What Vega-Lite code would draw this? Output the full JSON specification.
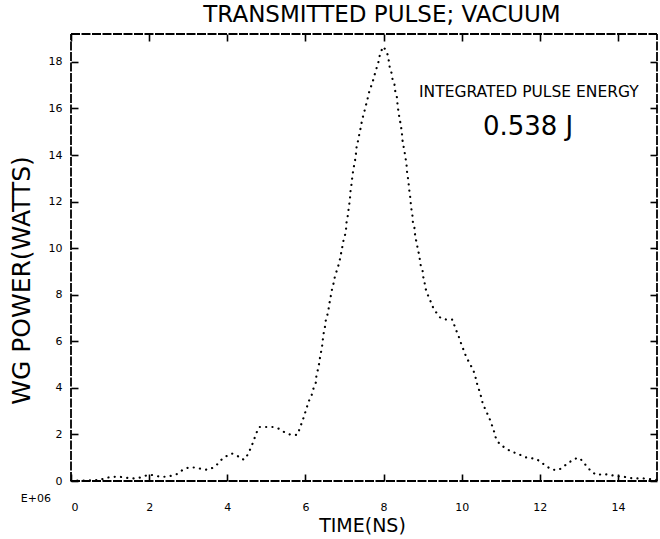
{
  "$schema": "https://vega.github.io/schema/vega-lite/v6.json",
  "width": 586,
  "height": 447,
  "autosize": "none",
  "padding": {"left": 71, "top": 34, "right": 3, "bottom": 58},
  "background": "white",
  "config": {
    "view": {"stroke": null},
    "font": "DejaVu Sans",
    "axis": {
      "grid": false,
      "domain": false,
      "ticks": true,
      "tickColor": "#000000",
      "tickWidth": 1.6,
      "tickOpacity": 1,
      "labelColor": "#000000",
      "titleColor": "#000000",
      "labelFont": "DejaVu Sans",
      "titleFont": "DejaVu Sans",
      "labelFontWeight": "normal",
      "titleFontWeight": "normal"
    }
  },
  "title": {
    "text": "TRANSMITTED PULSE; VACUUM",
    "fontSize": 23,
    "fontWeight": "normal",
    "font": "DejaVu Sans",
    "anchor": "middle",
    "offset": 6,
    "dx": 18,
    "color": "#000000"
  },
  "datasets": {
    "pulse": [
      {"t": 0.0, "P": 0.02}, {"t": 0.3, "P": 0.02}, {"t": 0.6, "P": 0.03}, {"t": 0.75, "P": 0.05},
      {"t": 0.91, "P": 0.14}, {"t": 1.08, "P": 0.18}, {"t": 1.25, "P": 0.18}, {"t": 1.42, "P": 0.14},
      {"t": 1.59, "P": 0.11}, {"t": 1.75, "P": 0.14}, {"t": 1.92, "P": 0.23}, {"t": 2.09, "P": 0.26},
      {"t": 2.24, "P": 0.2}, {"t": 2.41, "P": 0.18}, {"t": 2.58, "P": 0.23}, {"t": 2.72, "P": 0.3},
      {"t": 2.86, "P": 0.48}, {"t": 3.01, "P": 0.58}, {"t": 3.16, "P": 0.58}, {"t": 3.32, "P": 0.53},
      {"t": 3.49, "P": 0.48}, {"t": 3.62, "P": 0.56}, {"t": 3.76, "P": 0.74}, {"t": 3.86, "P": 0.93},
      {"t": 3.98, "P": 1.07}, {"t": 4.12, "P": 1.18}, {"t": 4.27, "P": 1.07}, {"t": 4.39, "P": 0.92},
      {"t": 4.48, "P": 0.97}, {"t": 4.54, "P": 1.23}, {"t": 4.61, "P": 1.42}, {"t": 4.66, "P": 1.67},
      {"t": 4.71, "P": 1.89}, {"t": 4.76, "P": 2.12}, {"t": 4.82, "P": 2.32}, {"t": 4.99, "P": 2.32},
      {"t": 5.16, "P": 2.32}, {"t": 5.33, "P": 2.24}, {"t": 5.47, "P": 2.09}, {"t": 5.6, "P": 2.0},
      {"t": 5.79, "P": 1.98}, {"t": 5.84, "P": 2.19}, {"t": 5.89, "P": 2.42}, {"t": 5.94, "P": 2.65},
      {"t": 5.98, "P": 2.88}, {"t": 6.03, "P": 3.1}, {"t": 6.06, "P": 3.33}, {"t": 6.13, "P": 3.58},
      {"t": 6.18, "P": 3.77}, {"t": 6.21, "P": 4.0}, {"t": 6.27, "P": 4.24}, {"t": 6.28, "P": 4.5},
      {"t": 6.32, "P": 4.79}, {"t": 6.35, "P": 5.03}, {"t": 6.37, "P": 5.26}, {"t": 6.39, "P": 5.45},
      {"t": 6.42, "P": 5.7}, {"t": 6.44, "P": 5.95}, {"t": 6.45, "P": 6.15}, {"t": 6.47, "P": 6.37},
      {"t": 6.5, "P": 6.62}, {"t": 6.52, "P": 6.88}, {"t": 6.56, "P": 7.12}, {"t": 6.59, "P": 7.35},
      {"t": 6.61, "P": 7.6}, {"t": 6.64, "P": 7.83}, {"t": 6.66, "P": 8.06}, {"t": 6.69, "P": 8.3},
      {"t": 6.73, "P": 8.55}, {"t": 6.76, "P": 8.83}, {"t": 6.81, "P": 9.06}, {"t": 6.85, "P": 9.29},
      {"t": 6.88, "P": 9.5}, {"t": 6.91, "P": 9.74}, {"t": 6.93, "P": 9.97}, {"t": 6.96, "P": 10.15},
      {"t": 6.98, "P": 10.4}, {"t": 7.02, "P": 10.6}, {"t": 7.04, "P": 10.8}, {"t": 7.05, "P": 11.08},
      {"t": 7.08, "P": 11.34}, {"t": 7.1, "P": 11.6}, {"t": 7.12, "P": 11.85}, {"t": 7.14, "P": 12.1},
      {"t": 7.15, "P": 12.4}, {"t": 7.17, "P": 12.6}, {"t": 7.19, "P": 12.9}, {"t": 7.2, "P": 13.05},
      {"t": 7.22, "P": 13.3}, {"t": 7.24, "P": 13.5}, {"t": 7.27, "P": 13.76}, {"t": 7.29, "P": 14.0},
      {"t": 7.31, "P": 14.34}, {"t": 7.34, "P": 14.56}, {"t": 7.37, "P": 14.8}, {"t": 7.39, "P": 15.0},
      {"t": 7.42, "P": 15.2}, {"t": 7.44, "P": 15.4}, {"t": 7.48, "P": 15.7}, {"t": 7.51, "P": 15.87},
      {"t": 7.54, "P": 16.1}, {"t": 7.58, "P": 16.3}, {"t": 7.61, "P": 16.58}, {"t": 7.65, "P": 16.8},
      {"t": 7.7, "P": 17.04}, {"t": 7.75, "P": 17.3}, {"t": 7.78, "P": 17.5}, {"t": 7.83, "P": 17.78},
      {"t": 7.87, "P": 18.0}, {"t": 7.9, "P": 18.25}, {"t": 7.94, "P": 18.46}, {"t": 7.99, "P": 18.66},
      {"t": 8.06, "P": 18.5}, {"t": 8.11, "P": 18.29}, {"t": 8.14, "P": 18.0}, {"t": 8.16, "P": 17.75},
      {"t": 8.21, "P": 17.5}, {"t": 8.23, "P": 17.26}, {"t": 8.28, "P": 17.05}, {"t": 8.29, "P": 16.8},
      {"t": 8.33, "P": 16.6}, {"t": 8.35, "P": 16.4}, {"t": 8.36, "P": 16.1}, {"t": 8.38, "P": 15.9},
      {"t": 8.4, "P": 15.67}, {"t": 8.43, "P": 15.4}, {"t": 8.45, "P": 15.2}, {"t": 8.47, "P": 14.96},
      {"t": 8.48, "P": 14.7}, {"t": 8.5, "P": 14.47}, {"t": 8.53, "P": 14.24}, {"t": 8.55, "P": 14.0},
      {"t": 8.57, "P": 13.8}, {"t": 8.59, "P": 13.56}, {"t": 8.6, "P": 13.3}, {"t": 8.62, "P": 13.07},
      {"t": 8.64, "P": 12.85}, {"t": 8.65, "P": 12.6}, {"t": 8.67, "P": 12.36}, {"t": 8.69, "P": 12.1},
      {"t": 8.7, "P": 11.85}, {"t": 8.72, "P": 11.6}, {"t": 8.74, "P": 11.4}, {"t": 8.75, "P": 11.14},
      {"t": 8.79, "P": 10.9}, {"t": 8.8, "P": 10.68}, {"t": 8.82, "P": 10.4}, {"t": 8.86, "P": 10.2},
      {"t": 8.87, "P": 9.97}, {"t": 8.91, "P": 9.74}, {"t": 8.93, "P": 9.5}, {"t": 8.95, "P": 9.28},
      {"t": 9.0, "P": 9.03}, {"t": 9.01, "P": 8.8}, {"t": 9.05, "P": 8.58}, {"t": 9.06, "P": 8.32},
      {"t": 9.11, "P": 8.12}, {"t": 9.16, "P": 7.86}, {"t": 9.23, "P": 7.63}, {"t": 9.28, "P": 7.4},
      {"t": 9.37, "P": 7.19}, {"t": 9.46, "P": 7.0}, {"t": 9.61, "P": 6.93}, {"t": 9.76, "P": 6.93},
      {"t": 9.81, "P": 6.7}, {"t": 9.86, "P": 6.47}, {"t": 9.92, "P": 6.23}, {"t": 9.97, "P": 5.98},
      {"t": 10.02, "P": 5.75}, {"t": 10.07, "P": 5.54}, {"t": 10.12, "P": 5.31}, {"t": 10.19, "P": 5.1},
      {"t": 10.26, "P": 4.88}, {"t": 10.32, "P": 4.66}, {"t": 10.36, "P": 4.42}, {"t": 10.39, "P": 4.2},
      {"t": 10.43, "P": 3.99}, {"t": 10.47, "P": 3.77}, {"t": 10.51, "P": 3.55}, {"t": 10.54, "P": 3.32},
      {"t": 10.6, "P": 3.1}, {"t": 10.66, "P": 2.88}, {"t": 10.72, "P": 2.65}, {"t": 10.77, "P": 2.42},
      {"t": 10.82, "P": 2.19}, {"t": 10.85, "P": 1.97}, {"t": 10.9, "P": 1.74}, {"t": 11.0, "P": 1.54},
      {"t": 11.14, "P": 1.4}, {"t": 11.28, "P": 1.25}, {"t": 11.45, "P": 1.17}, {"t": 11.6, "P": 1.03},
      {"t": 11.76, "P": 0.99}, {"t": 11.92, "P": 0.94}, {"t": 12.06, "P": 0.77}, {"t": 12.2, "P": 0.6},
      {"t": 12.34, "P": 0.48}, {"t": 12.49, "P": 0.48}, {"t": 12.63, "P": 0.65}, {"t": 12.74, "P": 0.79},
      {"t": 12.9, "P": 0.96}, {"t": 13.02, "P": 0.99}, {"t": 13.12, "P": 0.79}, {"t": 13.22, "P": 0.6},
      {"t": 13.32, "P": 0.4}, {"t": 13.46, "P": 0.26}, {"t": 13.63, "P": 0.3}, {"t": 13.8, "P": 0.26},
      {"t": 13.96, "P": 0.21}, {"t": 14.13, "P": 0.19}, {"t": 14.31, "P": 0.13}, {"t": 14.48, "P": 0.11},
      {"t": 14.65, "P": 0.11}, {"t": 15.0, "P": 0.05}
    ],
    "frame": [
      {"x0": 0, "x1": 15, "y0": 0, "y1": 0},
      {"x0": 0, "x1": 15, "y0": 19.2, "y1": 19.2},
      {"x0": 0, "x1": 0, "y0": 0, "y1": 19.2},
      {"x0": 15, "x1": 15, "y0": 0, "y1": 19.2}
    ]
  },
  "layer": [
    {
      "data": {"name": "frame"},
      "mark": {"type": "rule", "color": "#000000", "strokeWidth": 1.8, "strokeDash": [9, 1.5]},
      "encoding": {
        "x": {"field": "x0", "type": "quantitative", "axis": null},
        "x2": {"field": "x1"},
        "y": {"field": "y0", "type": "quantitative", "axis": null},
        "y2": {"field": "y1"}
      }
    },
    {
      "data": {"name": "pulse"},
      "mark": {"type": "line", "color": "#000000", "strokeWidth": 2.2, "strokeCap": "round", "strokeDash": [0.1, 6.2]},
      "encoding": {
        "x": {
          "field": "t", "type": "quantitative",
          "scale": {"domain": [0, 15], "nice": false, "zero": false},
          "axis": {
            "orient": "bottom", "values": [0, 2, 4, 6, 8, 10, 12, 14],
            "offset": -7, "tickSize": 7, "labelPadding": 26, "labelBaseline": "middle", "labelFontSize": 11,
            "title": "TIME(NS)", "titleFontSize": 19, "titleX": 291, "titleY": 51,
            "titleBaseline": "middle", "titleAlign": "center"
          }
        },
        "y": {
          "field": "P", "type": "quantitative",
          "scale": {"domain": [0, 19.2], "nice": false},
          "axis": {
            "orient": "left", "values": [0, 2, 4, 6, 8, 10, 12, 14, 16, 18],
            "offset": -7, "tickSize": 7, "labelPadding": 9, "labelFontSize": 11,
            "title": "WG POWER(WATTS)", "titleFontSize": 25, "titleAngle": -90,
            "titleX": -57, "titleY": 246, "titleBaseline": "middle", "titleAlign": "center"
          }
        }
      }
    },
    {
      "data": {"name": "pulse"},
      "mark": {"type": "point", "opacity": 0},
      "encoding": {
        "x": {
          "field": "t", "type": "quantitative",
          "axis": {"orient": "top", "values": [0, 2, 4, 6, 8, 10, 12, 14], "labels": false, "offset": -7, "tickSize": 7, "title": null}
        },
        "y": {
          "field": "P", "type": "quantitative",
          "axis": {"orient": "right", "values": [0, 2, 4, 6, 8, 10, 12, 14, 16, 18], "labels": false, "offset": -7, "tickSize": 7, "title": null}
        }
      }
    },
    {
      "data": {"values": [{"label": "INTEGRATED PULSE ENERGY"}]},
      "mark": {"type": "text", "fontSize": 15.5, "color": "#000000", "align": "center", "baseline": "middle"},
      "encoding": {
        "x": {"datum": 11.72, "type": "quantitative", "axis": null},
        "y": {"datum": 16.7, "type": "quantitative", "axis": null},
        "text": {"field": "label"}
      }
    },
    {
      "data": {"values": [{"label": "0.538 J"}]},
      "mark": {"type": "text", "fontSize": 26, "color": "#000000", "align": "center", "baseline": "middle"},
      "encoding": {
        "x": {"datum": 11.7, "type": "quantitative", "axis": null},
        "y": {"datum": 15.2, "type": "quantitative", "axis": null},
        "text": {"field": "label"}
      }
    },
    {
      "data": {"values": [{"label": "E+06"}]},
      "mark": {"type": "text", "fontSize": 11, "color": "#000000", "align": "center", "baseline": "middle"},
      "encoding": {
        "x": {"datum": -0.9, "type": "quantitative", "axis": null},
        "y": {"datum": -0.77, "type": "quantitative", "axis": null},
        "text": {"field": "label"}
      }
    }
  ],
  "resolve": {"axis": {"x": "independent", "y": "independent"}}
}
